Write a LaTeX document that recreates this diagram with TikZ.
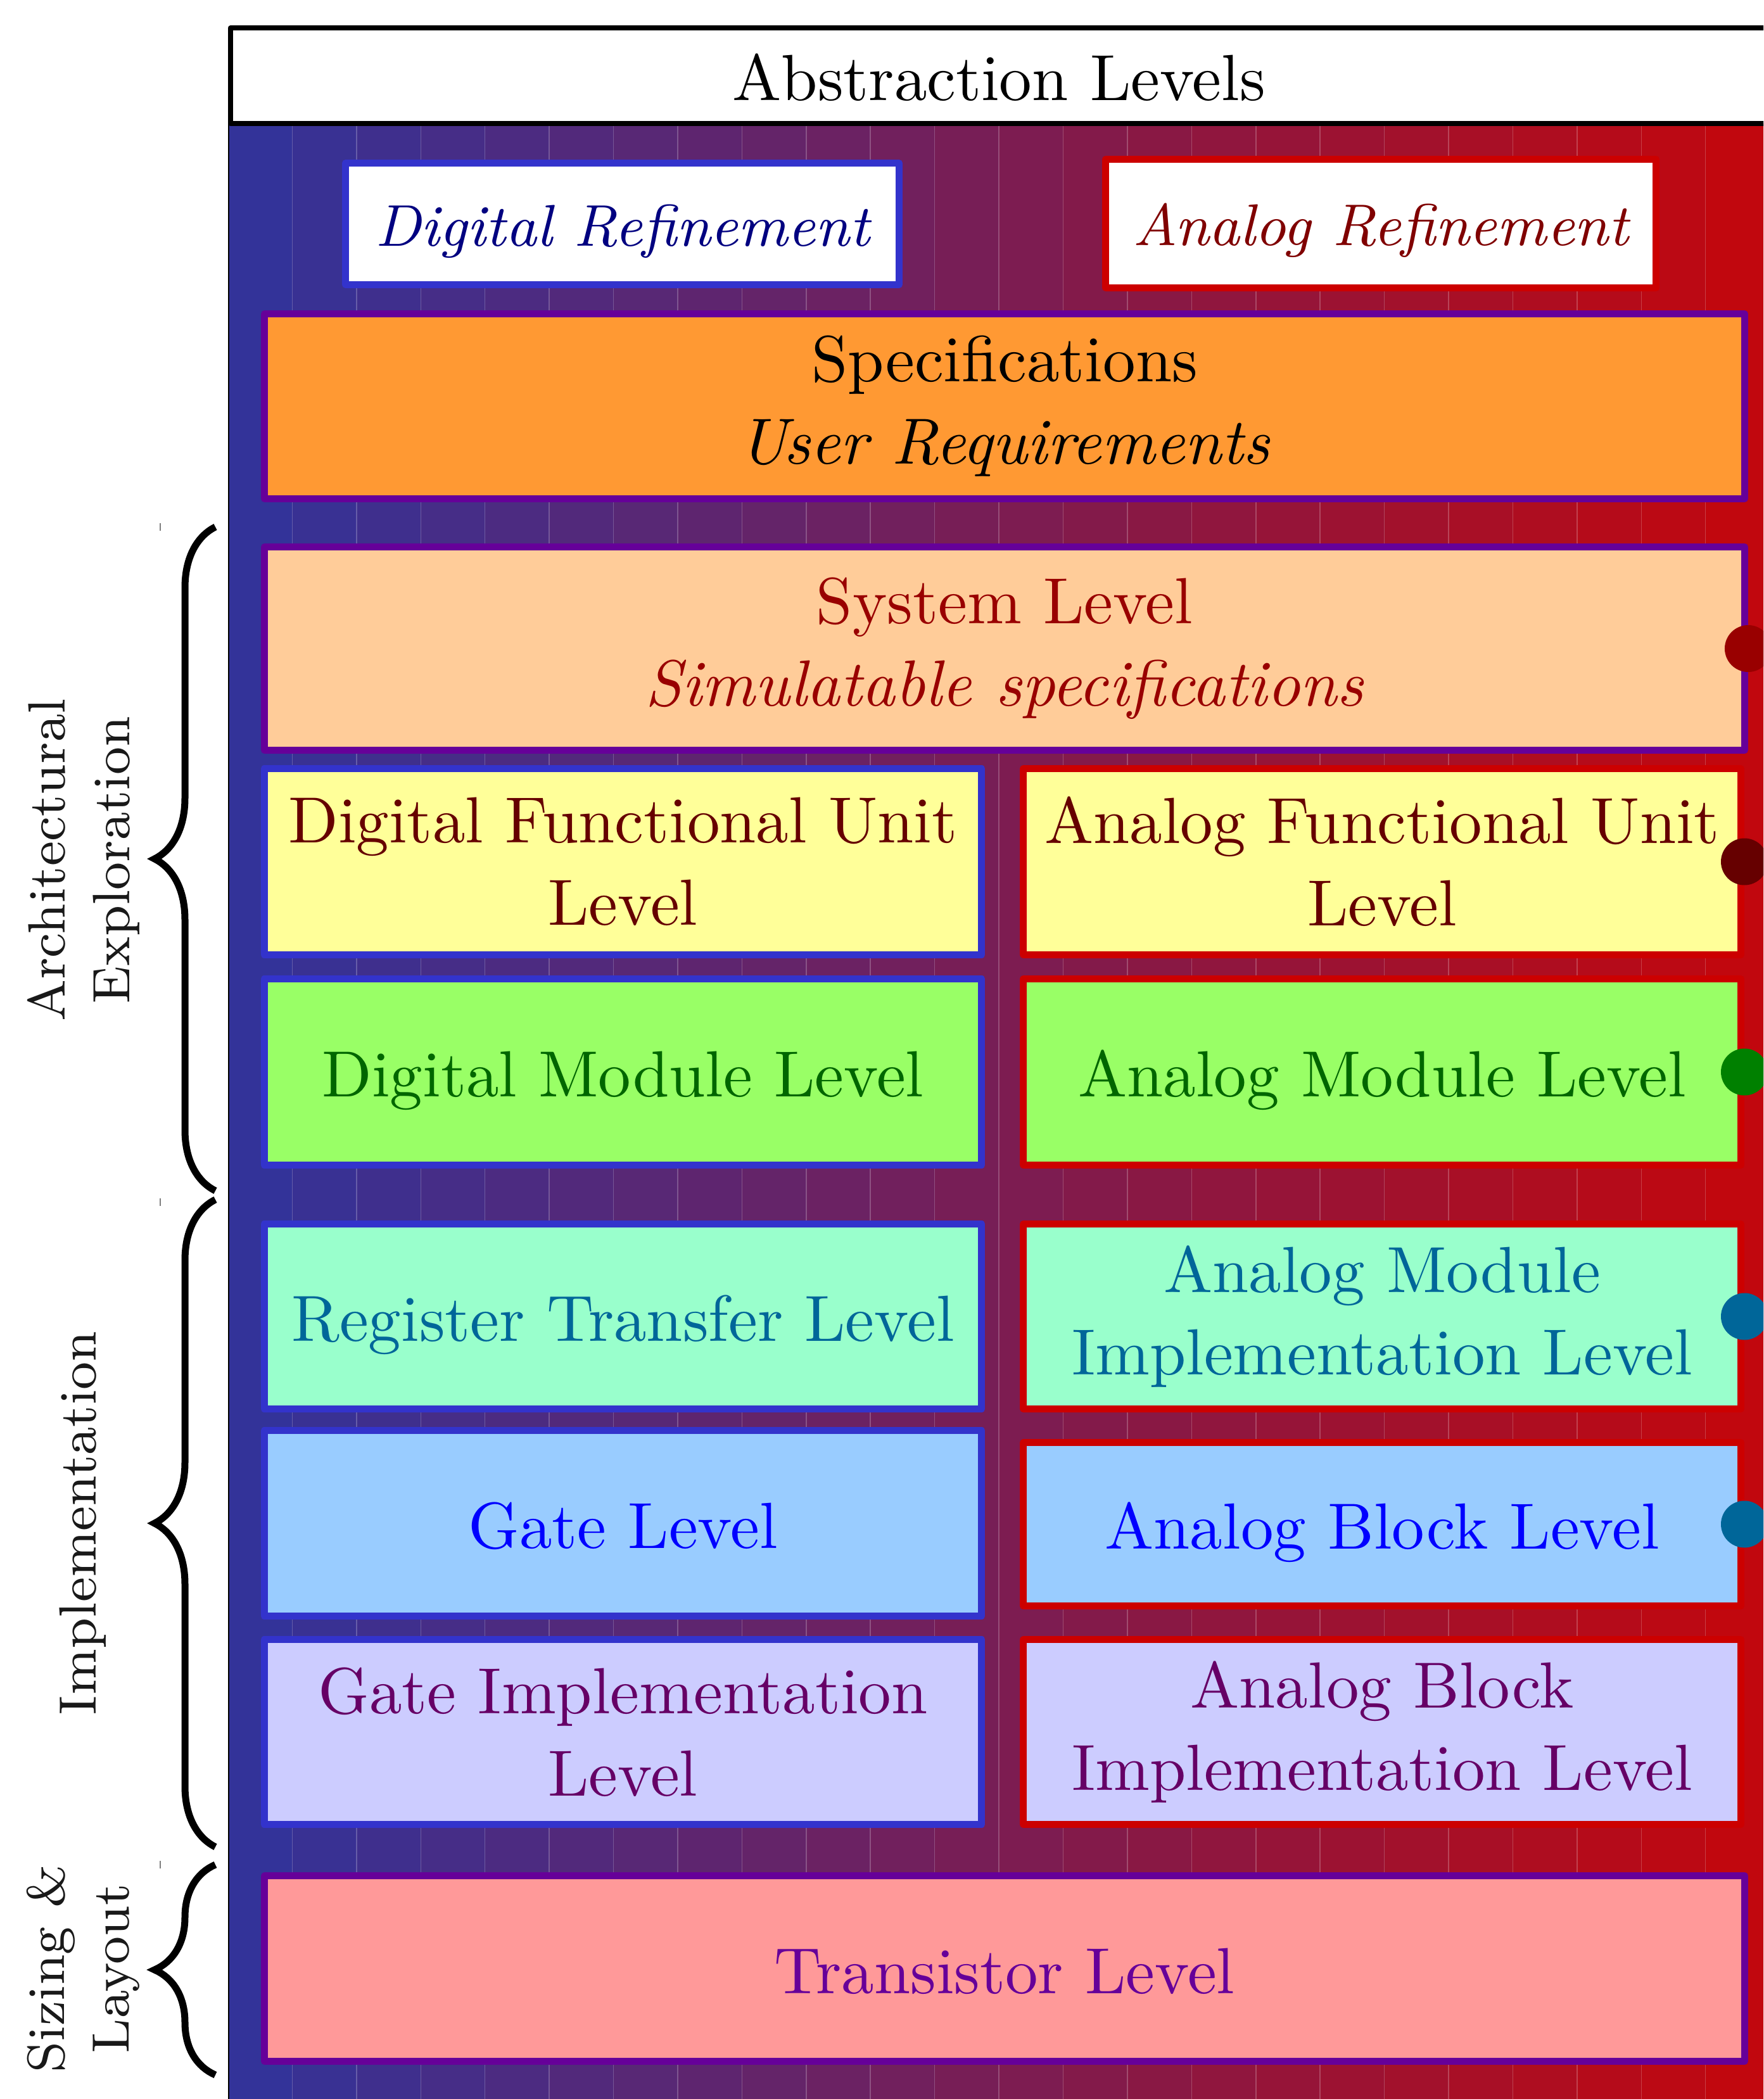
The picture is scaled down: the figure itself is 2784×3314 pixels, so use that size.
\documentclass[tikz,border=0pt]{standalone}
\usepackage{fontspec}
\usetikzlibrary{decorations.pathreplacing}
\definecolor{gL}{RGB}{51,51,153}
\definecolor{gR}{RGB}{193,7,14}
\definecolor{digB}{RGB}{51,51,204}
\definecolor{anaR}{RGB}{204,0,0}
\definecolor{purB}{RGB}{102,0,153}
\definecolor{navyT}{RGB}{0,0,128}
\definecolor{maroonT}{RGB}{128,0,0}
\definecolor{specF}{RGB}{255,153,51}
\definecolor{sysF}{RGB}{255,204,153}
\definecolor{fuF}{RGB}{255,255,153}
\definecolor{modF}{RGB}{153,255,102}
\definecolor{rtlF}{RGB}{153,255,204}
\definecolor{gateF}{RGB}{153,204,255}
\definecolor{gimpF}{RGB}{204,204,255}
\definecolor{trF}{RGB}{255,153,153}
\definecolor{sysT}{RGB}{153,0,0}
\definecolor{fuT}{RGB}{102,0,0}
\definecolor{modT}{RGB}{0,102,0}
\definecolor{rtlT}{RGB}{0,102,153}
\definecolor{gateT}{RGB}{0,0,255}
\definecolor{gimpT}{RGB}{102,0,102}
\definecolor{trT}{RGB}{102,0,153}
\definecolor{modD}{RGB}{0,128,0}
\newcommand\mainfnt{\fontsize{10.3pt}{13pt}\selectfont}
\newcommand\reffnt{\fontsize{9.3pt}{12pt}\selectfont\itshape}
\newcommand\labfnt{\fontsize{8.3pt}{10.2pt}\selectfont}
\begin{document}
\begin{tikzpicture}[x=0.1pt,y=-0.1pt,
  lvl/.style={draw, line width=1.1pt, line join=round, inner sep=0pt, align=center, font=\mainfnt},
  one/.style={text height=7.8pt, text depth=0pt},
  dig/.style={lvl, draw=digB, minimum width=113.3pt},
  ana/.style={lvl, draw=anaR, minimum width=113.3pt},
  full/.style={lvl, draw=purB, minimum width=233.7pt},
  sidelab/.style={rotate=90, align=center, font=\labfnt, text=black!90, inner sep=0pt},
  bracec/.style={decorate, decoration={brace, amplitude=9.6pt}, line width=1.1pt},
  tick/.style={gray, line width=0.2pt},
  seam/.style={white, opacity=0.22, line width=0.15pt}
]
\useasboundingbox (0,0) rectangle (2784,3314);
\clip (0,0) rectangle (2784,3314);
% stepped gradient background
\foreach \i in {0,...,23}{
  \pgfmathsetmacro\pc{\i*100/23}
  \colorlet{stripc}{gR!\pc!gL}
  \fill[stripc] ({360+\i*101.42},195) rectangle ({360+(\i+1)*101.42+1},3320);
}
\foreach \i in {1,...,23}{
  \draw[seam] ({360+\i*101.42},198) -- ({360+\i*101.42},3314);
}
\draw[black, line width=0.25pt] (361,195) -- (361,3320);
% header
\node[draw=black, fill=white, line width=0.8pt, line join=round, minimum width=242.6pt, minimum height=15.1pt, inner sep=0pt, font=\mainfnt, one] (hdr) at (1577,119.5) {Abstraction Levels};
% refinement labels
\node[lvl, draw=digB, fill=white, text=navyT, minimum width=87.4pt, minimum height=19.2pt, font=\reffnt, text height=7pt, text depth=0pt] (dref) at (982.5,353.5) {Digital Refinement};
\node[lvl, draw=anaR, fill=white, text=maroonT, minimum width=86.9pt, minimum height=20.3pt, font=\reffnt, text height=7pt, text depth=0pt] (aref) at (2180,353) {Analog Refinement};
% levels
\node[full, fill=specF, text=black, minimum height=29.2pt] (spec) at (1586,641.5) {Specifications\\\textit{User Requirements}};
\node[full, fill=sysF, text=sysT, minimum height=32.1pt] (sys) at (1586,1024) {System Level\\\textit{Simulatable specifications}};
\node[dig, fill=fuF, text=fuT, minimum height=29.4pt] (dfu) at (983.5,1360.5) {Digital Functional Unit\\Level};
\node[ana, fill=fuF, text=fuT, minimum height=29.4pt] (afu) at (2182,1360.5) {Analog Functional Unit\\Level};
\node[dig, one, fill=modF, text=modT, minimum height=29.4pt] (dmod) at (983.5,1692.5) {Digital Module Level};
\node[ana, one, fill=modF, text=modT, minimum height=29.4pt] (amod) at (2182,1692.5) {Analog Module Level};
\node[dig, one, fill=rtlF, text=rtlT, minimum height=29.2pt] (rtl) at (983.5,2078.5) {Register Transfer Level};
\node[ana, fill=rtlF, text=rtlT, minimum height=29.2pt] (ami) at (2182,2078.5) {Analog Module\\Implementation Level};
\node[dig, one, fill=gateF, text=gateT, minimum height=29.3pt] (gate) at (983.5,2405) {Gate Level};
\node[ana, one, fill=gateF, text=gateT, minimum height=25.8pt] (ablk) at (2182,2406.5) {Analog Block Level};
\node[dig, fill=gimpF, text=gimpT, minimum height=29.2pt] (gimp) at (983.5,2734.5) {Gate Implementation\\Level};
\node[ana, fill=gimpF, text=gimpT, minimum height=29.2pt] (abi) at (2182,2734.5) {Analog Block\\Implementation Level};
\node[full, one, fill=trF, text=trT, minimum height=29.3pt] (tr) at (1586,3108) {Transistor Level};
% dots
\fill[sysT] (sys.east) circle[radius=3.7pt];
\fill[fuT] (afu.east) circle[radius=3.7pt];
\fill[modD] (amod.east) circle[radius=3.7pt];
\fill[rtlT] (ami.east) circle[radius=3.7pt];
\fill[rtlT] (ablk.east) circle[radius=3.7pt];
% side labels
\node[sidelab] (lae) at (132,1358) {Architectural\\Exploration};
\node[sidelab] (limp) at (131,2405) {Implementation};
\node[sidelab] (lsl) at (131,3108) {Sizing \&\\Layout};
% braces
\coordinate (b1s) at (340,1880); \coordinate (b1e) at (340,832);
\coordinate (b2s) at (340,2916); \coordinate (b2e) at (340,1894);
\coordinate (b3s) at (340,3276); \coordinate (b3e) at (340,2944);
\draw[bracec] (b1s) -- (b1e);
\draw[bracec] (b2s) -- (b2e);
\draw[bracec] (b3s) -- (b3e);
\coordinate (t1a) at (253,826); \coordinate (t1b) at (253,838);
\coordinate (t2a) at (253,1892); \coordinate (t2b) at (253,1904);
\coordinate (t3a) at (253,2938); \coordinate (t3b) at (253,2950);
\draw[tick] (t1a) -- (t1b);
\draw[tick] (t2a) -- (t2b);
\draw[tick] (t3a) -- (t3b);
\end{tikzpicture}
\end{document}
